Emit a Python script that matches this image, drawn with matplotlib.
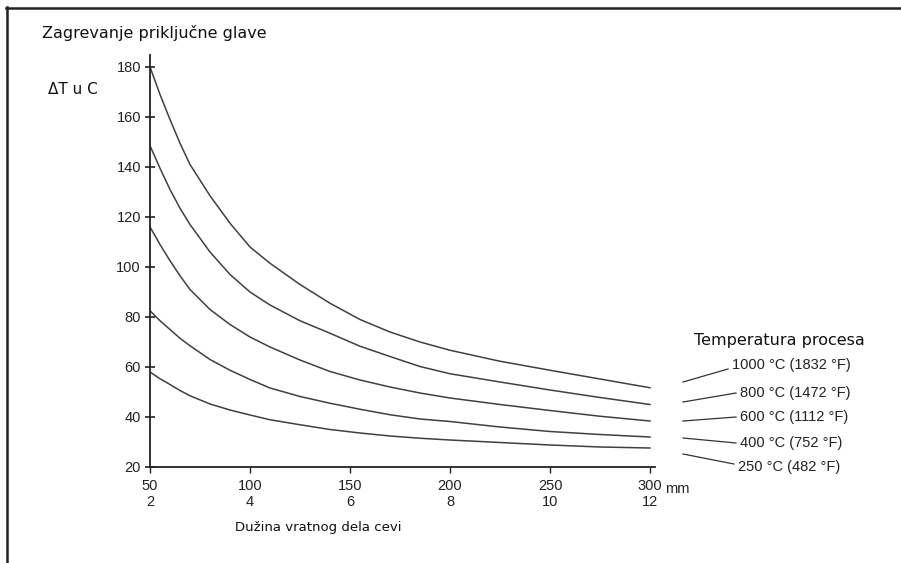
import matplotlib.pyplot as plt
from matplotlib.lines import Line2D

# length of the neck tube, mm (and inches on the second label row)
length_mm = [50, 55, 60, 65, 70, 80, 90, 100, 110, 125, 140, 155, 170, 185,
             200, 225, 250, 275, 300]
tick_mm = [50, 100, 150, 200, 250, 300]
tick_in = [2, 4, 6, 8, 10, 12]

# head temperature rise dT (deg C) per process temperature
dt_1000 = [180, 169, 159, 149.5, 141, 128.5, 117.5, 108, 101.5, 93, 85.5, 79,
           74, 70, 66.7, 62.3, 58.7, 55.2, 51.7]
dt_800 = [148.5, 139.5, 131, 123.5, 117, 106, 97, 90, 84.8, 78.5, 73.5, 68.3,
          64.2, 60.2, 57.3, 54, 50.8, 47.8, 45]
dt_600 = [116, 109, 102.5, 96.5, 91, 83, 77, 72, 68, 62.8, 58.2, 54.8, 52,
          49.6, 47.6, 45, 42.6, 40.3, 38.4]
dt_400 = [82.5, 78.5, 75, 71.5, 68.5, 63, 58.7, 55, 51.6, 48.2, 45.5, 43.1,
          40.9, 39.2, 38.2, 36, 34.2, 33, 32]
dt_250 = [58, 55.3, 53, 50.6, 48.5, 45.2, 42.8, 40.8, 38.9, 36.9, 35, 33.6,
          32.4, 31.5, 30.8, 29.8, 28.8, 28, 27.6]

curves = [dt_1000, dt_800, dt_600, dt_400, dt_250]
labels = ['1000 °C (1832 °F)', '800 °C (1472 °F)', '600 °C (1112 °F)',
          '400 °C (752 °F)', '250 °C (482 °F)']

W, H = 901, 563
fig = plt.figure(figsize=(W / 100, H / 100), dpi=100)

def fx(px):
    return px / W

def fy(py):
    return 1 - py / H

ax = fig.add_axes([fx(150), fy(467), (655 - 150) / W, (467 - 55) / H])
for c in curves:
    ax.plot(length_mm, c, color='#404040', lw=1.1)

ax.set_xlim(50, 302.5)
ax.set_ylim(20, 184.8)
ax.spines['top'].set_visible(False)
ax.spines['right'].set_visible(False)
for s in ['left', 'bottom']:
    ax.spines[s].set_linewidth(1.3)
    ax.spines[s].set_color('#222222')

font = 'Liberation Sans'
ax.set_yticks(range(20, 181, 20))
ax.tick_params(axis='y', direction='inout', length=7, width=1.2, pad=3,
               labelsize=10.5, colors='#222222')
ax.set_xticks(tick_mm)
ax.set_xticklabels([f'{a}\n{b}' for a, b in zip(tick_mm, tick_in)])
ax.tick_params(axis='x', direction='out', length=4.5, width=1.0, pad=4,
               labelsize=10.5, colors='#222222')
for lab in ax.get_xticklabels() + ax.get_yticklabels():
    lab.set_fontfamily(font)

ax.annotate('mm', xy=(300, 20), xytext=(15, -22), textcoords='offset pixels',
            ha='left', va='center', fontsize=10.5, family=font, color='#222222',
            annotation_clip=False)

# titles
fig.text(fx(42), fy(33), 'Zagrevanje priključne glave', ha='left', va='center',
         fontsize=11.5, family='DejaVu Sans', color='#111111')
fig.text(fx(48), fy(89), 'ΔT u C', ha='left', va='center', fontsize=11,
         family='DejaVu Sans', color='#111111')
fig.text(fx(235), fy(528), 'Dužina vratnog dela cevi', ha='left', va='center',
         fontsize=9.5, family='DejaVu Sans', color='#111111')

# process temperature key
fig.text(fx(694), fy(341), 'Temperatura procesa', ha='left', va='center',
         fontsize=11.5, family='DejaVu Sans', color='#111111')
label_x = [732, 740, 740, 740, 738]
label_y = [365, 393, 417, 443, 467]
lead_start = [382, 402, 421, 438, 454]
lead_end = [369, 393, 417, 443, 464]
for lab, lx, ly, y0, y1 in zip(labels, label_x, label_y, lead_start, lead_end):
    fig.text(fx(lx), fy(ly), lab, ha='left', va='center', fontsize=10.5,
             family=font, color='#222222')
    fig.add_artist(Line2D([fx(683), fx(lx - 4)], [fy(y0), fy(y1)],
                          color='#333333', lw=0.9))

# frame lines (top and left)
fig.add_artist(Line2D([fx(6), fx(901)], [fy(7.5), fy(7.5)], color='#222222', lw=1.8))
fig.add_artist(Line2D([fx(6.5), fx(6.5)], [fy(7), fy(563)], color='#222222', lw=1.8))

fig.savefig('out.png', dpi=100)
